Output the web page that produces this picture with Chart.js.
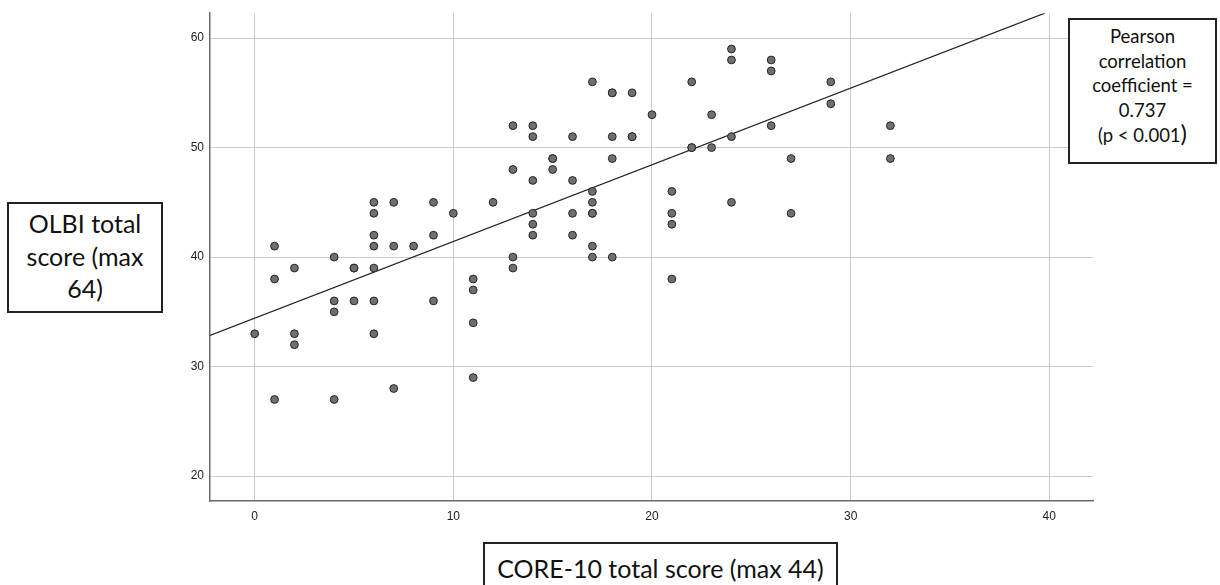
<!DOCTYPE html>
<html>
<head>
<meta charset="utf-8">
<script src="https://cdn.jsdelivr.net/npm/chart.js@4.4.1/dist/chart.umd.min.js"></script>
<style>
    body { margin: 0; background: #fff; }
    #wrap { position: relative; width: 1220px; height: 585px; overflow: hidden; }
    #scatter { position: absolute; left: 0; top: 0; }
    .label-box {
        position: absolute;
        border: 2px solid #222;
        background: #fff;
        color: #111;
        font-family: Lato, "Open Sans", sans-serif;
        text-align: center;
        box-sizing: border-box;
    }
    #yTitle { left: 7px; top: 202px; width: 156px; height: 111px; font-size: 25px; line-height: 32.5px; padding-top: 3px; }
    #xTitle { left: 483px; top: 542px; width: 355px; height: 60px; font-size: 25px; line-height: 30px; padding-top: 9px; }
    #statBox { left: 1068px; top: 18px; width: 149px; height: 146px; font-size: 18.5px; line-height: 24.7px; padding-top: 4px; }
    #statBox .big { font-size: 24px; line-height: 20px; }
</style>
</head>
<body>
<div id="wrap">
    <canvas id="scatter" width="1220" height="585"></canvas>
    <div class="label-box" id="yTitle">OLBI total<br>score (max<br>64)</div>
    <div class="label-box" id="xTitle">CORE-10 total score (max 44)</div>
    <div class="label-box" id="statBox">Pearson<br>correlation<br>coefficient =<br>0.737<br>(p &lt; 0.001<span class="big">)</span></div>
</div>
<script>
// CORE-10 score (x) and OLBI score (y) for each participant
const coreScores = [
    0,
    1, 1, 1,
    2, 2, 2,
    4, 4, 4, 4,
    5, 5, 5,
    6, 6, 6, 6, 6, 6, 6,
    7, 7, 7,
    8,
    9, 9, 9,
    10,
    11, 11, 11, 11,
    12,
    13, 13, 13, 13,
    14, 14, 14, 14, 14, 14,
    15, 15, 15,
    16, 16, 16, 16,
    17, 17, 17, 17, 17, 17, 17,
    18, 18, 18, 18, 18,
    19, 19, 19,
    20,
    21, 21, 21, 21,
    22, 22, 22,
    23, 23,
    24, 24, 24, 24,
    26, 26, 26,
    27, 27,
    29, 29,
    32, 32
];
const olbiScores = [
    33,
    41, 38, 27,
    39, 33, 32,
    40, 36, 35, 27,
    39, 39, 36,
    45, 44, 42, 41, 39, 36, 33,
    45, 41, 28,
    41,
    45, 42, 36,
    44,
    38, 37, 34, 29,
    45,
    52, 48, 40, 39,
    52, 51, 47, 44, 43, 42,
    49, 49, 48,
    51, 47, 44, 42,
    56, 46, 45, 44, 44, 41, 40,
    55, 55, 51, 49, 40,
    55, 51, 51,
    53,
    46, 44, 43, 38,
    56, 50, 50,
    53, 50,
    59, 58, 51, 45,
    58, 57, 52,
    49, 44,
    56, 54,
    52, 49
];

// fitted line as drawn on the figure
const fitIntercept = 34.43;
const fitSlope = 0.70;

const xTicks = [0, 10, 20, 30, 40];
const yTicks = [20, 30, 40, 50, 60];
const xRange = [-2.25, 42.2];
const yRange = [17.73, 62.27];

const points = coreScores.map((x, i) => ({ x: x, y: olbiScores[i] }));

// line runs from the left edge until it leaves through the top
const fitEndX = (yRange[1] - fitIntercept) / fitSlope;
const fitLine = [
    { x: xRange[0], y: fitIntercept + fitSlope * xRange[0] },
    { x: fitEndX, y: fitIntercept + fitSlope * fitEndX }
];

const tickFont = { family: '"Liberation Sans", Arial, sans-serif', size: 12 };

new Chart(document.getElementById('scatter').getContext('2d'), {
    type: 'scatter',
    data: {
        datasets: [{
            type: 'line',
            data: fitLine,
            borderColor: '#262626',
            borderWidth: 1.3,
            pointRadius: 0,
            fill: false,
            order: 2
        }, {
            data: points,
            backgroundColor: '#6f6f6f',
            borderColor: '#262626',
            borderWidth: 1,
            pointRadius: 3.9,
            order: 1
        }]
    },
    options: {
        responsive: false,
        animation: false,
        devicePixelRatio: 1,
        layout: { padding: { top: 6, right: 127, left: 0, bottom: 0 } },
        plugins: {
            legend: { display: false },
            tooltip: { enabled: false }
        },
        scales: {
            x: {
                type: 'linear',
                min: xRange[0],
                max: xRange[1],
                afterBuildTicks: axis => { axis.ticks = xTicks.map(v => ({ value: v })); },
                afterFit: axis => { axis.height = 84; },
                grid: { color: '#cccccc', lineWidth: 1, drawTicks: false },
                border: { display: true, color: '#6a6a6a', width: 1.5 },
                ticks: { color: '#222', font: tickFont, padding: 8, maxRotation: 0 }
            },
            y: {
                type: 'linear',
                min: yRange[0],
                max: yRange[1],
                afterBuildTicks: axis => { axis.ticks = yTicks.map(v => ({ value: v })); },
                afterFit: axis => { axis.width = 210; },
                grid: { color: '#cccccc', lineWidth: 1, drawTicks: false },
                border: { display: true, color: '#6a6a6a', width: 1.5 },
                ticks: { color: '#222', font: tickFont, padding: 6 }
            }
        }
    }
});
</script>
</body>
</html>
